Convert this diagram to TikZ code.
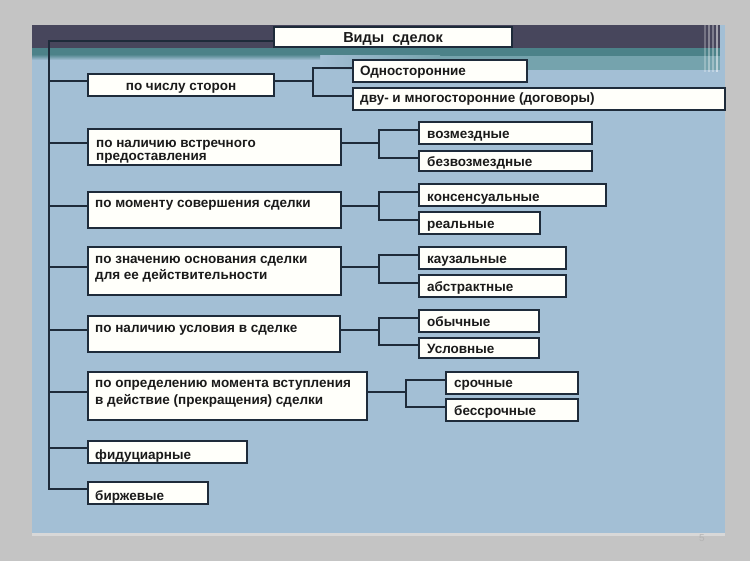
\documentclass[tikz,border=0pt]{standalone}
\usepackage{fontspec}
\setmainfont{Liberation Sans}
\definecolor{outgray}{HTML}{C4C4C4}
\definecolor{bodyb}{HTML}{A3BFD5}
\definecolor{darkband}{HTML}{47465C}
\definecolor{tealA}{HTML}{4C8289}
\definecolor{tealB}{HTML}{75A3AD}
\definecolor{linec}{HTML}{1E2B3A}
\definecolor{boxw}{HTML}{FFFFFA}
\definecolor{textc}{HTML}{1A1A1A}
\definecolor{pnum}{HTML}{B4B4B4}
\tikzset{
  box/.style={draw=linec, line width=1.5pt, fill=boxw, inner sep=0pt, outer sep=0pt, anchor=north west},
  txt/.style={font=\bfseries\fontsize{13.5}{15}\selectfont, text=textc, inner sep=0pt, anchor=base west},
  ln/.style={draw=linec, line width=1.5pt}
}
\begin{document}
\begin{tikzpicture}[x=1pt,y=-1pt]
\useasboundingbox (0,0) rectangle (750,561);
% background
\fill[outgray] (0,0) rectangle (750,561);
\fill[bodyb] (32,25) rectangle (725,533);
\fill[darkband] (32,25) rectangle (720,48);
\fill[tealA] (32,48) rectangle (720,56);
\shade[left color=bodyb, right color=tealB] (320,56) rectangle (440,70);
\fill[tealB] (440,56) rectangle (720,70);
\shade[top color=tealA!70!bodyb, bottom color=bodyb] (32,56) rectangle (320,60);
\foreach \x/\o in {705/0.25,709/0.35,713/0.3,717/0.5}
  \draw[white, opacity=\o, line width=1.2pt] (\x,25) -- (\x,72);
\fill[white, opacity=0.35] (32,533) rectangle (725,536);
\node[font=\fontsize{10}{12}\selectfont, text=pnum, inner sep=0pt] (pg) at (702,538) {5};

% title
\node[box, minimum width=238pt, minimum height=20pt] (ttl) at (274,27) {};
\node[txt, anchor=base, font=\bfseries\fontsize{14.5}{16}\selectfont] (ttlt) at (393,43) {Виды\ \ сделок};

% main boxes
\node[box, minimum width=186pt, minimum height=22pt] (b1) at (88,74) {};
\node[box, minimum width=253pt, minimum height=36pt] (b2) at (88,129) {};
\node[box, minimum width=253pt, minimum height=36pt] (b3) at (88,192) {};
\node[box, minimum width=253pt, minimum height=48pt] (b4) at (88,247) {};
\node[box, minimum width=252pt, minimum height=36pt] (b5) at (88,316) {};
\node[box, minimum width=279pt, minimum height=48pt] (b6) at (88,372) {};
\node[box, minimum width=159pt, minimum height=22pt] (b7) at (88,441) {};
\node[box, minimum width=120pt, minimum height=22pt] (b8) at (88,482) {};

% children
\node[box, minimum width=174pt, minimum height=22pt] (c11) at (353,60) {};
\node[box, minimum width=372pt, minimum height=22pt] (c12) at (353,88) {};
\node[box, minimum width=173pt, minimum height=22pt] (c21) at (419,122) {};
\node[box, minimum width=173pt, minimum height=20pt] (c22) at (419,151) {};
\node[box, minimum width=187pt, minimum height=22pt] (c31) at (419,184) {};
\node[box, minimum width=121pt, minimum height=22pt] (c32) at (419,212) {};
\node[box, minimum width=147pt, minimum height=22pt] (c41) at (419,247) {};
\node[box, minimum width=147pt, minimum height=22pt] (c42) at (419,275) {};
\node[box, minimum width=120pt, minimum height=22pt] (c51) at (419,310) {};
\node[box, minimum width=120pt, minimum height=20pt] (c52) at (419,338) {};
\node[box, minimum width=132pt, minimum height=22pt] (c61) at (446,372) {};
\node[box, minimum width=132pt, minimum height=22pt] (c62) at (446,399) {};

% texts of main boxes
\node[txt, anchor=base] (b1t) at (181,91) {по числу сторон};
\node[txt] (b2t) at (96,148) {по наличию встречного};
\node[txt] (b2u) at (96,161) {предоставления};
\node[txt] (b3t) at (95,208) {по моменту совершения сделки};
\node[txt] (b4t) at (95,264) {по значению основания сделки};
\node[txt] (b4u) at (95,280) {для ее действительности};
\node[txt] (b5t) at (95,333) {по наличию условия в сделке};
\node[txt] (b6t) at (95,388) {по определению момента вступления};
\node[txt] (b6u) at (95,405) {в действие (прекращения) сделки};
\node[txt] (b7t) at (95,459) {фидуциарные};
\node[txt] (b8t) at (95,500) {биржевые};

% texts of children
\node[txt] (c11t) at (360,76) {Односторонние};
\node[txt] (c12t) at (360,103) {дву- и многосторонние (договоры)};
\node[txt] (c21t) at (427,139) {возмездные};
\node[txt] (c22t) at (427,167) {безвозмездные};
\node[txt] (c31t) at (427,202) {консенсуальные};
\node[txt] (c32t) at (427,229) {реальные};
\node[txt] (c41t) at (427,264) {каузальные};
\node[txt] (c42t) at (427,292) {абстрактные};
\node[txt] (c51t) at (427,327) {обычные};
\node[txt] (c52t) at (427,354) {Условные};
\node[txt] (c61t) at (454,388) {срочные};
\node[txt] (c62t) at (454,415) {бессрочные};

% trunk
\coordinate (tt) at (49,41);
\draw[ln] ([yshift=-4pt]ttl.west) -- (tt) |- ([yshift=4pt]b8.west);
\foreach \b in {b1,b2,b3,b4,b5,b6,b7} {
  \coordinate (L\b) at ([yshift=4pt]\b.west);
  \draw[ln] (L\b) -- (tt |- L\b);
}
% branches
\foreach \b/\u/\v in {b1/c11/c12, b2/c21/c22, b3/c31/c32, b4/c41/c42, b5/c51/c52, b6/c61/c62} {
  \coordinate (R\b) at ([yshift=4pt]\b.east);
  \coordinate (K\b) at ([xshift=-40pt]\u.west);
  \coordinate (U\b) at ([yshift=3pt]\u.west);
  \coordinate (V\b) at ([yshift=3pt]\v.west);
  \draw[ln] (R\b) -- (K\b |- R\b);
  \draw[ln] (U\b) -| (K\b |- V\b) -- (V\b);
}
\end{tikzpicture}
\end{document}
